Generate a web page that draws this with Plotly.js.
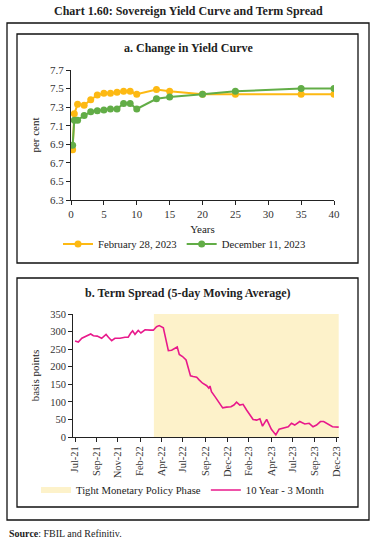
<!DOCTYPE html>
<html>
<head>
<meta charset="utf-8">
<script src="https://cdn.plot.ly/plotly-3.0.1.min.js"></script>
<style>
html,body{margin:0;padding:0;background:#fff;}
#chart{width:376px;height:544px;}
</style>
</head>
<body>
<div id="chart"></div>
<script>
// ---------- Panel a: yield curve ----------
const tenorYears = [0.25, 0.5, 1, 2, 3, 4, 5, 6, 7, 8, 9, 10, 13, 15, 20, 25, 35, 40];
const yieldFeb2023 = [6.84, 7.23, 7.33, 7.32, 7.38, 7.43, 7.45, 7.45, 7.46, 7.47, 7.47, 7.44, 7.49, 7.47, 7.44, 7.44, 7.44, 7.44];
const yieldDec2023 = [6.89, 7.16, 7.16, 7.21, 7.25, 7.26, 7.27, 7.28, 7.28, 7.34, 7.34, 7.28, 7.39, 7.41, 7.44, 7.47, 7.50, 7.50];
const seriesNamesA = ["February 28, 2023", "December 11, 2023"];

// ---------- Panel b: term spread ----------
const spreadDates = [
 "2021-07-01","2021-07-12","2021-07-24","2021-08-10","2021-08-23","2021-09-01","2021-09-14","2021-09-29",
 "2021-10-14","2021-10-22","2021-11-02","2021-11-13","2021-11-30","2021-12-17","2021-12-28","2022-01-05",
 "2022-01-12","2022-01-20","2022-01-31","2022-02-09","2022-02-23","2022-03-12","2022-03-23","2022-04-03",
 "2022-04-12","2022-04-26","2022-05-01","2022-05-07","2022-05-13","2022-05-24","2022-06-04","2022-06-12",
 "2022-06-19","2022-06-30","2022-07-12","2022-07-19","2022-07-27","2022-08-05","2022-08-17","2022-08-26",
 "2022-09-06","2022-09-20","2022-09-27","2022-10-01","2022-10-06","2022-10-18","2022-10-29","2022-11-13",
 "2022-11-26","2022-12-11","2022-12-21","2022-12-30","2023-01-10","2023-01-21","2023-02-02","2023-02-13",
 "2023-02-24","2023-03-08","2023-03-19","2023-03-28","2023-04-11","2023-04-27","2023-05-12","2023-05-23",
 "2023-06-11","2023-06-23","2023-07-04","2023-07-15","2023-08-01","2023-08-18","2023-09-02","2023-09-15",
 "2023-09-27","2023-10-10","2023-10-21","2023-11-05","2023-11-20","2023-12-11"];
const spreadBps = [
 273,270,281,287,293,288,287,281,
 292,284,274,281,281,284,284,295,
 302,292,303,296,305,304,304,314,
 317,311,290,262,246,247,252,256,
 235,229,219,200,174,172,170,162,
 153,146,139,145,129,115,101,83,
 85,86,91,99,91,93,77,62,
 50,48,52,31,50,22,6,22,
 25,29,39,34,44,37,39,29,
 34,44,44,37,29,28];
const policyPhase = ["2022-03-25", "2023-12-11"];
const policyTop = [350, 350];
const seriesNamesB = ["Tight Monetary Policy Phase", "10 Year - 3 Month"];
const tickDatesB = ["2021-07-01","2021-09-13","2021-11-23","2022-02-06","2022-04-21","2022-07-01","2022-09-17",
 "2022-12-01","2023-02-10","2023-04-28","2023-07-08","2023-09-21","2023-12-04"];
const tickLabelsB = ["Jul-21","Sep-21","Nov-21","Feb-22","Apr-22","Jul-22","Sep-22","Dec-22","Feb-23","Apr-23","Jul-23","Sep-23","Dec-23"];

const W = 376, H = 544;
const px = v => v / W;
const py = v => 1 - v / H;
const FONT = "Liberation Serif, DejaVu Serif, serif";
const ORANGE = "#FDB913", GREEN = "#62AD47", PINK = "#E8198B", SHADE = "#FDF2CA";

const traces = [
  {x: tenorYears, y: yieldFeb2023, name: seriesNamesA[0], type: "scatter", mode: "lines+markers",
   line: {color: ORANGE, width: 2}, marker: {color: ORANGE, size: 7}, xaxis: "x", yaxis: "y", legend: "legend"},
  {x: tenorYears, y: yieldDec2023, name: seriesNamesA[1], type: "scatter", mode: "lines+markers",
   line: {color: GREEN, width: 2}, marker: {color: GREEN, size: 7}, xaxis: "x", yaxis: "y", legend: "legend"},
  {x: policyPhase, y: policyTop, name: seriesNamesB[0], type: "scatter", mode: "none", fill: "tozeroy",
   fillcolor: SHADE, xaxis: "x2", yaxis: "y2", legend: "legend2", hoverinfo: "skip"},
  {x: spreadDates, y: spreadBps, name: seriesNamesB[1], type: "scatter", mode: "lines",
   line: {color: PINK, width: 1.6}, xaxis: "x2", yaxis: "y2", legend: "legend2"}
];

const axisCommon = {
  showgrid: false, zeroline: false, showline: true, linecolor: "#222", linewidth: 1,
  ticks: "outside", ticklen: 4, tickcolor: "#222", tickfont: {family: FONT, size: 11, color: "#333"}
};

const layout = {
  width: W, height: H,
  margin: {l: 0, r: 0, t: 0, b: 0},
  paper_bgcolor: "#fff", plot_bgcolor: "rgba(0,0,0,0)",
  font: {family: FONT, color: "#222"},
  showlegend: true,
  xaxis: Object.assign({}, axisCommon, {
    domain: [px(71), px(334)], range: [0, 40], tickvals: [0,5,10,15,20,25,30,35,40], anchor: "y",
    title: {text: "Years", font: {family: FONT, size: 11, color: "#222"}, standoff: 6}
  }),
  yaxis: Object.assign({}, axisCommon, {
    domain: [py(200), py(70)], range: [6.3, 7.7], tickvals: [6.3,6.5,6.7,6.9,7.1,7.3,7.5,7.7],
    tickformat: ".1f", anchor: "x",
    title: {text: "per cent", font: {family: FONT, size: 11, color: "#222"}, standoff: 8}
  }),
  xaxis2: Object.assign({}, axisCommon, {
    type: "date", domain: [px(73), px(339)], range: ["2021-06-24", "2023-12-12"],
    tickvals: tickDatesB, ticktext: tickLabelsB, tickangle: -90, anchor: "y2",
    tickfont: {family: FONT, size: 10.5, color: "#333"}
  }),
  yaxis2: Object.assign({}, axisCommon, {
    domain: [py(437), py(314)], range: [0, 350], dtick: 50, anchor: "x2",
    tickfont: {family: FONT, size: 10.5, color: "#333"},
    title: {text: "basis points", font: {family: FONT, size: 11, color: "#222"}, standoff: 8}
  }),
  legend: {orientation: "h", x: px(58), y: py(244), xanchor: "left", yanchor: "middle",
    font: {family: FONT, size: 10.7, color: "#222"}, bgcolor: "rgba(0,0,0,0)", itemwidth: 30,
    tracegroupgap: 0, itemclick: false},
  legend2: {orientation: "h", x: px(36), y: py(490), xanchor: "left", yanchor: "middle",
    font: {family: FONT, size: 10.7, color: "#222"}, bgcolor: "rgba(0,0,0,0)", itemwidth: 30,
    traceorder: "normal", itemclick: false},
  shapes: [
    {type: "rect", xref: "paper", yref: "paper", x0: px(7), x1: px(369), y0: py(520), y1: py(23),
     line: {color: "#111", width: 1.3}},
    {type: "rect", xref: "paper", yref: "paper", x0: px(17), x1: px(358), y0: py(263), y1: py(34),
     line: {color: "#111", width: 1.3}},
    {type: "rect", xref: "paper", yref: "paper", x0: px(17), x1: px(358), y0: py(507), y1: py(278),
     line: {color: "#111", width: 1.3}}
  ],
  annotations: [
    {text: "<b>Chart 1.60: Sovereign Yield Curve and Term Spread</b>", xref: "paper", yref: "paper",
     x: px(188), y: py(11), xanchor: "center", yanchor: "middle", showarrow: false,
     font: {family: FONT, size: 12, color: "#222"}},
    {text: "<b>a. Change in Yield Curve</b>", xref: "paper", yref: "paper",
     x: px(188), y: py(48), xanchor: "center", yanchor: "middle", showarrow: false,
     font: {family: FONT, size: 12, color: "#222"}},
    {text: "<b>b. Term Spread (5-day Moving Average)</b>", xref: "paper", yref: "paper",
     x: px(188), y: py(293), xanchor: "center", yanchor: "middle", showarrow: false,
     font: {family: FONT, size: 12, color: "#222"}},
    {text: "<b>Source</b>: FBIL and Refinitiv.", xref: "paper", yref: "paper",
     x: px(7), y: py(533), xanchor: "left", yanchor: "middle", showarrow: false,
     font: {family: FONT, size: 10, color: "#222"}}
  ]
};

Plotly.newPlot("chart", traces, layout, {displayModeBar: false, staticPlot: true});
</script>
</body>
</html>
